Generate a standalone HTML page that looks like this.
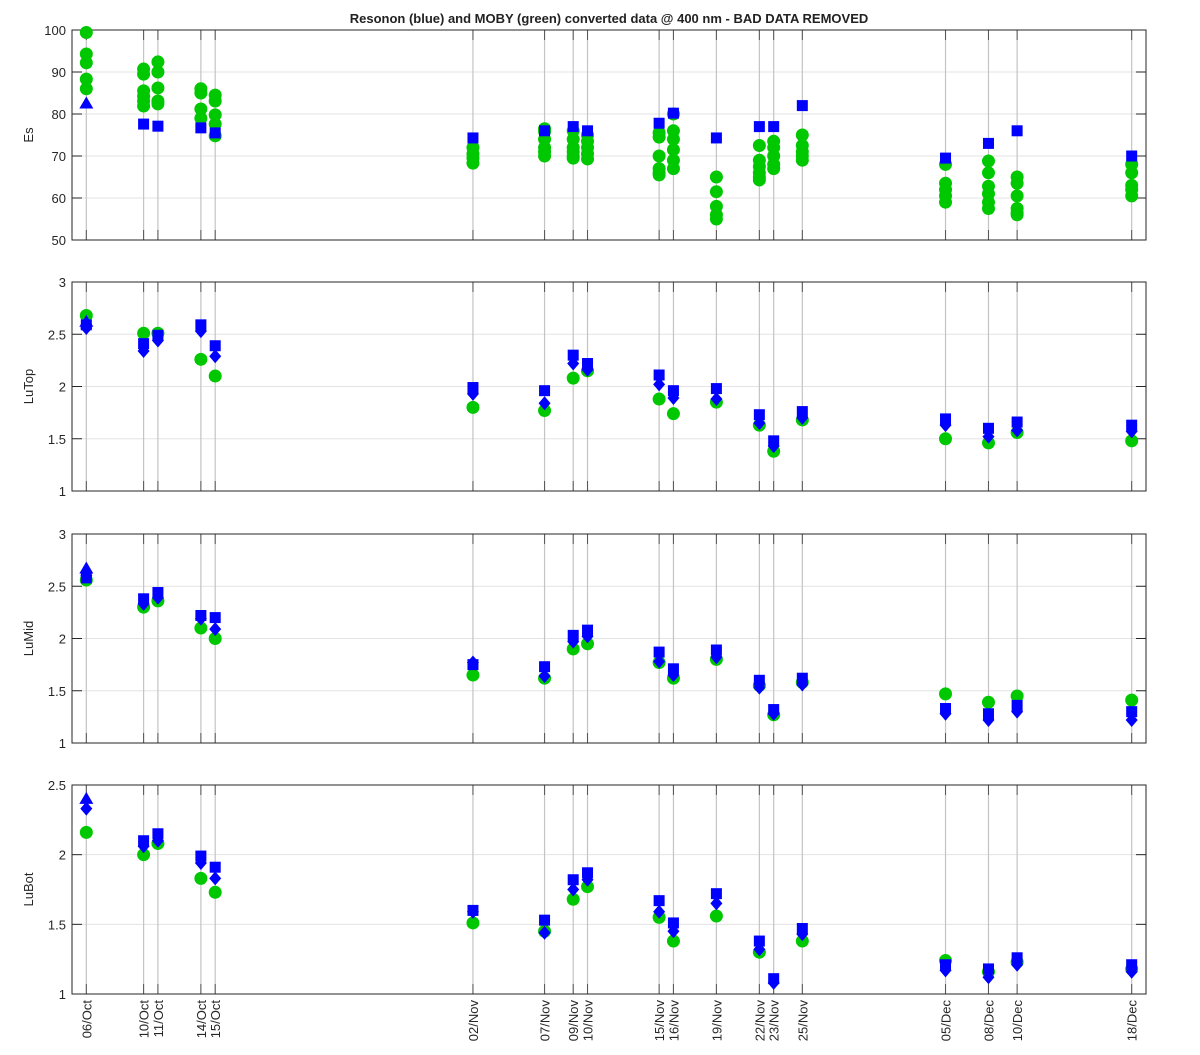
<!DOCTYPE html>
<html><head><meta charset="utf-8"><style>
body{margin:0;background:#fff;width:1200px;height:1050px;overflow:hidden}
svg text{font-family:"Liberation Sans",sans-serif}
</style></head><body>
<svg id="chart" width="1200" height="1050" viewBox="0 0 1200 1050" xmlns="http://www.w3.org/2000/svg">
<rect width="1200" height="1050" fill="#fff"/>
<text x="609" y="23" text-anchor="middle" font-size="13" font-weight="bold" fill="#222">Resonon (blue) and MOBY (green) converted data @ 400 nm - BAD DATA REMOVED</text>
</svg>
<script>
const dateLabels=["06/Oct","10/Oct","11/Oct","14/Oct","15/Oct","02/Nov","07/Nov","09/Nov","10/Nov","15/Nov","16/Nov","19/Nov","22/Nov","23/Nov","25/Nov","05/Dec","08/Dec","10/Dec","18/Dec"];
const dateDays=[0,4,5,8,9,27,32,34,35,40,41,44,47,48,50,60,63,65,73];
const esGreen=[[99.4,94.3,92.2,88.3,86],[90.7,89.5,85.5,84.2,83.1,81.9],[92.4,90,86.2,83.1,82.4],[86,85,81.2,79],[84.5,83.1,79.8,77.6,74.8],[72,70.5,69.5,68.3],[76.5,75.8,74,72,71,70],[76,74,72,71,70,69.5],[75,73.5,72,70.5,69.3],[75.5,74.5,70,67,66,65.5],[80,76,74,71.5,69,67],[65,61.5,58,56,55],[72.5,69,67.5,66,65,64.3],[73.5,72,70,68,67],[75,72.5,71,70,69],[68,63.5,62,60.5,59],[68.8,66,62.8,61,59,57.5],[65,63.5,60.5,57.5,56.5,56],[68,66,63,62,60.5]];
const esSquare=[null,77.6,77.1,76.7,75.5,74.3,76,77,76,77.8,80.2,74.3,77,77,82,69.5,73,76,70];
const esDiamond=[];
const esTriangle=[82.5];
const topGreen=[2.68,2.51,2.51,2.26,2.10,1.80,1.77,2.08,2.15,1.88,1.74,1.85,1.63,1.38,1.68,1.50,1.46,1.56,1.48];
const topSquare=[2.59,2.41,2.49,2.59,2.39,1.99,1.96,2.30,2.22,2.11,1.96,1.98,1.73,1.48,1.76,1.69,1.60,1.66,1.63];
const topDiamond=[2.56,2.34,2.44,2.53,2.29,1.93,1.84,2.22,2.16,2.02,1.89,1.88,1.65,1.43,1.70,1.63,1.52,1.58,1.57];
const topTriangle=[2.62];
const midGreen=[2.56,2.30,2.36,2.10,2.00,1.65,1.62,1.90,1.95,1.77,1.62,1.80,1.55,1.27,1.58,1.47,1.39,1.45,1.41];
const midSquare=[2.58,2.38,2.44,2.22,2.20,1.75,1.73,2.03,2.08,1.87,1.71,1.89,1.60,1.32,1.62,1.33,1.28,1.36,1.30];
const midDiamond=[2.60,2.33,2.39,2.19,2.09,1.77,1.64,1.97,2.02,1.78,1.65,1.82,1.53,1.28,1.56,1.28,1.22,1.30,1.22];
const midTriangle=[2.67];
const botGreen=[2.16,2.00,2.08,1.83,1.73,1.51,1.45,1.68,1.77,1.55,1.38,1.56,1.30,null,1.38,1.24,1.16,1.23,1.18];
const botSquare=[null,2.10,2.15,1.99,1.91,1.60,1.53,1.82,1.87,1.67,1.51,1.72,1.38,1.11,1.47,1.21,1.18,1.26,1.21];
const botDiamond=[2.33,2.06,2.10,1.94,1.83,1.59,1.44,1.75,1.82,1.59,1.45,1.65,1.32,1.08,1.43,1.17,1.12,1.21,1.16];
const botTriangle=[2.40];
const esTicks=[50,60,70,80,90,100];
const luTicks=[1,1.5,2,2.5,3];
const botTicks=[1,1.5,2,2.5];

const NS="http://www.w3.org/2000/svg";
const svg=document.getElementById('chart');
const L=72,R=1146;
const xScale=d=>L+(d+1)*(R-L)/75;
function mk(tag,attrs,parent){const e=document.createElementNS(NS,tag);for(const k in attrs)e.setAttribute(k,attrs[k]);(parent||svg).appendChild(e);return e;}
const panels=[
 {name:"es",label:"Es",top:30,bot:240,min:50,max:100,ticks:esTicks,green:esGreen,sq:esSquare,di:esDiamond,tr:esTriangle},
 {name:"lutop",label:"LuTop",top:282,bot:491,min:1,max:3,ticks:luTicks,green:topGreen,sq:topSquare,di:topDiamond,tr:topTriangle},
 {name:"lumid",label:"LuMid",top:534,bot:743,min:1,max:3,ticks:luTicks,green:midGreen,sq:midSquare,di:midDiamond,tr:midTriangle},
 {name:"lubot",label:"LuBot",top:785,bot:994,min:1,max:2.5,ticks:botTicks,green:botGreen,sq:botSquare,di:botDiamond,tr:botTriangle}];
panels.forEach((p,pi)=>{
 const g=mk('g',{});
 
 
 const y=v=>p.bot-(v-p.min)*(p.bot-p.top)/(p.max-p.min);
 p.ticks.forEach(t=>{
  const gl=mk('line',{x1:L,x2:R,y1:y(t),y2:y(t),stroke:'#e3e3e3','stroke-width':1},g);
  
  
  mk('line',{x1:L,x2:L+10,y1:y(t),y2:y(t),stroke:'#262626'},g);
  mk('line',{x1:R-10,x2:R,y1:y(t),y2:y(t),stroke:'#262626'},g);
  const tl=mk('text',{x:L-6,y:y(t)+5,'text-anchor':'end','font-size':13,fill:'#262626'},g);
  tl.textContent=String(t);
  
  
 });
 dateDays.forEach(d=>{
  const x=xScale(d);
  const vl=mk('line',{x1:x,x2:x,y1:p.top,y2:p.bot,stroke:'#c4c4c4','stroke-width':1.2},g);
  
  
  mk('line',{x1:x,x2:x,y1:p.top,y2:p.top+10,stroke:'#555'},g);
  mk('line',{x1:x,x2:x,y1:p.bot-10,y2:p.bot,stroke:'#555'},g);
 });
 const fr=mk('rect',{x:L,y:p.top,width:R-L,height:p.bot-p.top,fill:'none',stroke:'#262626','stroke-width':1},g);
 
 
 const yl=mk('text',{x:0,y:0,transform:`translate(33,${(p.top+p.bot)/2}) rotate(-90)`,'text-anchor':'middle','font-size':13,fill:'#262626'},g);
 yl.textContent=p.label;
 
 
 // green
 p.green.forEach((v,i)=>{
  const vals=Array.isArray(v)?v:[v];
  vals.forEach(val=>{ if(val==null)return;
   const c=mk('circle',{cx:xScale(dateDays[i]),cy:y(val),r:6.5,fill:'#00c800'},g);
   
   
  });
 });
 p.sq.forEach((v,i)=>{ if(v==null)return;
  const x=xScale(dateDays[i]),yy=y(v);
  const s=mk('rect',{x:x-5.5,y:yy-5.5,width:11,height:11,fill:'#0000ff'},g);
  
  
 });
 p.di.forEach((v,i)=>{ if(v==null)return;
  const x=xScale(dateDays[i]),yy=y(v);
  const d=mk('polygon',{points:`${x},${yy-7} ${x+6},${yy} ${x},${yy+7} ${x-6},${yy}`,fill:'#0000ff'},g);
  
  
 });
 p.tr.forEach((v,i)=>{ if(v==null)return;
  const x=xScale(dateDays[i]),yy=y(v);
  const t=mk('polygon',{points:`${x},${yy-7} ${x+7},${yy+5} ${x-7},${yy+5}`,fill:'#0000ff'},g);
  
  
 });
 if(pi===3){
  dateLabels.forEach((lab,i)=>{
   const x=xScale(dateDays[i]);
   const t=mk('text',{x:0,y:0,transform:`translate(${x+5},1000) rotate(-90)`,'text-anchor':'end','font-size':13,fill:'#262626'},g);
   t.textContent=lab;
   
   
  });
 }
});
</script>
</body></html>
